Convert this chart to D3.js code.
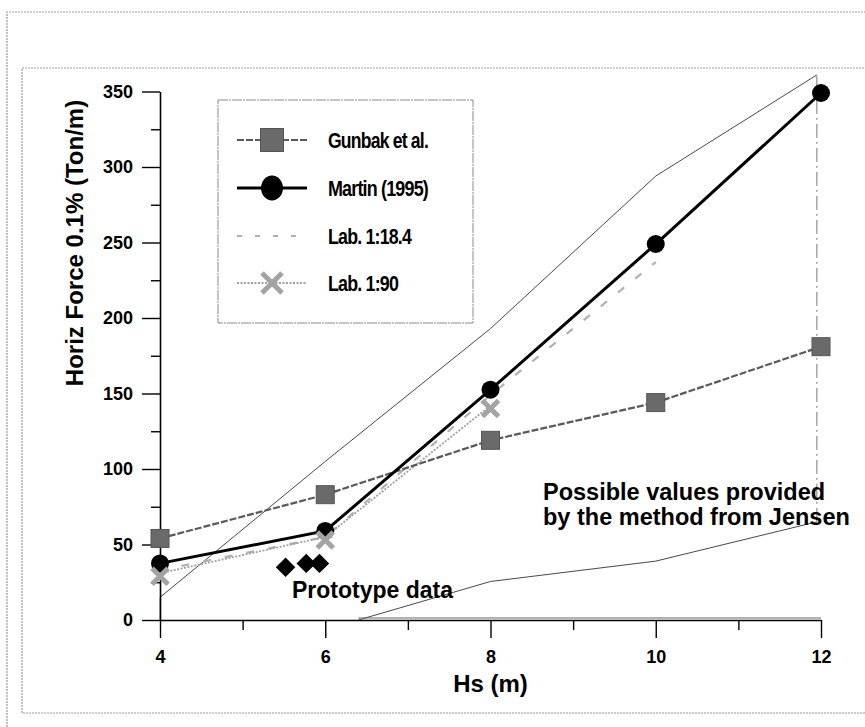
<!DOCTYPE html>
<html>
<head>
<meta charset="utf-8">
<script src="https://cdn.jsdelivr.net/npm/d3@7"></script>
<style>
  html, body { margin: 0; padding: 0; background: #fff; }
  svg { display: block; }
  text { font-family: "Liberation Sans", Arial, Helvetica, sans-serif; }
</style>
</head>
<body>
<svg id="chart" width="865" height="727"></svg>
<script>
// Wave height Hs (m) and horizontal force 0.1% (Ton/m)
const hs = [4, 6, 8, 10, 12];
const gunbak = [54, 83, 119, 144, 181];
const martin = [37.5, 59, 152.5, 249, 349];
const lab184Hs = [4, 6, 8, 10];
const lab184 = [33, 55, 149, 237];
const lab90Hs = [4, 6, 8];
const lab90 = [31, 55, 142];
const protoHs = [5.52, 5.77, 5.93];
const protoForce = [35, 37.5, 37.5];
// Envelope of values from the Jensen method
const jensenUpperHs = [4, 6, 8, 10, 11.95];
const jensenUpper = [15, 105, 193, 294, 361];
const jensenLowerHs = [6.4, 8, 10, 11.95];
const jensenLower = [0, 25.5, 39, 65];
const yTicks = [0, 50, 100, 150, 200, 250, 300, 350];
const yMinor = [25, 75, 125, 175, 225, 275, 325];
const xTicks = [4, 6, 8, 10, 12];
const xMinor = [5, 7, 9, 11];
const legendNames = ["Gunbak et al.", "Martin (1995)", "Lab. 1:18.4", "Lab. 1:90"];

const svg = d3.select("#chart");
const x = d3.scaleLinear().domain([4, 12]).range([160, 821]);
const y = d3.scaleLinear().domain([0, 350]).range([620, 91.5]);

// page frames
svg.append("path").attr("d", "M7,727V12H865")
  .attr("fill", "none").attr("stroke", "#9a9a9a").attr("stroke-width", 1.2).attr("stroke-dasharray", "2,1");
svg.append("path").attr("d", "M865,713H22V68H865")
  .attr("fill", "none").attr("stroke", "#9a9a9a").attr("stroke-width", 1.2).attr("stroke-dasharray", "2,1");

const line = d3.line().x(d => x(d[0])).y(d => y(d[1]));
const pts = (xs, ys) => xs.map((v, i) => [v, ys[i]]);

// Jensen envelope
const up = pts(jensenUpperHs, jensenUpper);
const lo = pts(jensenLowerHs, jensenLower);
svg.append("path").attr("d", line(up)).attr("fill", "none").attr("stroke", "#333").attr("stroke-width", 0.9);
svg.append("path").attr("d", line(lo)).attr("fill", "none").attr("stroke", "#333").attr("stroke-width", 0.9);
svg.append("path").attr("d", line([[4, 0], up[0]])).attr("fill", "none").attr("stroke", "#888").attr("stroke-width", 1);
svg.append("path").attr("d", line([lo[lo.length - 1], up[up.length - 1]]))
  .attr("fill", "none").attr("stroke", "#777").attr("stroke-width", 1).attr("stroke-dasharray", "14,4,2,4");
svg.append("path").attr("d", line([lo[0], [12, 0]])).attr("fill", "none")
  .attr("stroke", "#666").attr("stroke-width", 1.2).attr("transform", "translate(0,-2)");

// axes
svg.append("g").attr("transform", `translate(${x(4)},0)`)
  .call(d3.axisLeft(y).tickValues(yTicks).tickSize(18).tickPadding(9).tickSizeOuter(0));
svg.append("g").attr("transform", `translate(${x(4)},0)`)
  .call(d3.axisLeft(y).tickValues(yMinor).tickSize(9).tickFormat("").tickSizeOuter(0))
  .select(".domain").remove();
svg.append("g").attr("transform", `translate(0,${y(0)})`)
  .call(d3.axisBottom(x).tickValues(xTicks).tickSize(18).tickPadding(12).tickSizeOuter(0));
svg.append("g").attr("transform", `translate(0,${y(0)})`)
  .call(d3.axisBottom(x).tickValues(xMinor).tickSize(10).tickFormat("").tickSizeOuter(0))
  .select(".domain").remove();
svg.selectAll(".domain").attr("stroke", "#000").attr("stroke-width", 1.6);
svg.selectAll(".tick line").attr("stroke", "#000").attr("stroke-width", 1.4);
svg.selectAll(".tick text").attr("font-size", 18).attr("font-weight", "bold")
  .attr("font-family", "Liberation Sans, Arial, sans-serif").attr("fill", "#000");

// axis titles
svg.append("text").attr("x", x(8)).attr("y", 692).attr("text-anchor", "middle")
  .attr("font-size", 24).attr("font-weight", "bold").text("Hs (m)");
svg.append("text").attr("transform", "translate(83,243) rotate(-90)").attr("text-anchor", "middle")
  .attr("font-size", 24).attr("font-weight", "bold").text("Horiz Force 0.1% (Ton/m)");

// series lines
const styles = [
  { stroke: "#5a5a5a", width: 2.2, dash: "7,2" },
  { stroke: "#000", width: 3, dash: null },
  { stroke: "#b0b0b0", width: 2.2, dash: "8,14" },
  { stroke: "#a0a0a0", width: 1.8, dash: "2,1.5" }
];
const series = [pts(hs, gunbak), pts(hs, martin), pts(lab184Hs, lab184), pts(lab90Hs, lab90)];
[2, 3, 0, 1].forEach(i => {
  svg.append("path").attr("d", line(series[i])).attr("fill", "none")
    .attr("stroke", styles[i].stroke).attr("stroke-width", styles[i].width)
    .attr("stroke-dasharray", styles[i].dash);
});

// markers
function square(g, cx, cy, s) {
  g.append("rect").attr("x", cx - s / 2).attr("y", cy - s / 2).attr("width", s).attr("height", s)
    .attr("fill", "#6a6a6a").attr("stroke", "#555").attr("stroke-width", 1);
}
function circle(g, cx, cy, rx, ry) {
  g.append("ellipse").attr("cx", cx).attr("cy", cy).attr("rx", rx).attr("ry", ry).attr("fill", "#000");
}
function cross(g, cx, cy, r) {
  g.append("path").attr("d", `M${cx - r},${cy - r}L${cx + r},${cy + r}M${cx - r},${cy + r}L${cx + r},${cy - r}`)
    .attr("stroke", "#a3a3a3").attr("stroke-width", 5).attr("fill", "none");
}
const marks = svg.append("g");
series[0].forEach(d => square(marks, x(d[0]), y(d[1]), 18));
series[1].forEach(d => circle(marks, x(d[0]), y(d[1]), 9, 9));
series[3].forEach(d => cross(marks, x(d[0]), y(d[1]) + 3, 8));

// prototype data
svg.append("g").selectAll("path").data(pts(protoHs, protoForce)).join("path")
  .attr("transform", d => `translate(${x(d[0])},${y(d[1])}) rotate(45)`)
  .attr("d", d3.symbol(d3.symbolSquare, 190)()).attr("fill", "#000");

// annotations
svg.append("text").attr("x", 292).attr("y", 598).attr("font-size", 23).attr("font-weight", "bold")
  .text("Prototype data");
svg.append("text").attr("x", 543).attr("y", 500).attr("font-size", 23.5).attr("font-weight", "bold")
  .text("Possible values provided");
svg.append("text").attr("x", 543).attr("y", 525).attr("font-size", 23.5).attr("font-weight", "bold")
  .text("by the method from Jensen");

// legend
const lg = svg.append("g");
lg.append("rect").attr("x", 218).attr("y", 100).attr("width", 255).attr("height", 223)
  .attr("fill", "#fff").attr("stroke", "#8a8a8a").attr("stroke-width", 1).attr("stroke-dasharray", "10,1,2,1");
const rowY = [140, 188, 236, 283];
const textLen = [100, 100, 83, 70];
legendNames.forEach((name, i) => {
  const cy = rowY[i];
  lg.append("line").attr("x1", 237).attr("x2", 307).attr("y1", cy).attr("y2", cy)
    .attr("stroke", styles[i].stroke).attr("stroke-width", styles[i].width)
    .attr("stroke-dasharray", i === 2 ? "5,13" : styles[i].dash);
  if (i === 0) square(lg, 272, cy, 23);
  if (i === 1) circle(lg, 272, cy, 11, 12.5);
  if (i === 3) cross(lg, 272, cy, 10);
  lg.append("text").attr("x", 328).attr("y", cy + 8)
    .attr("font-family", "Liberation Sans Narrow, Arial Narrow, Liberation Sans, sans-serif")
    .attr("font-size", 22).attr("font-weight", "bold").attr("letter-spacing", -1)
    .attr("textLength", textLen[i]).attr("lengthAdjust", "spacingAndGlyphs")
    .text(name);
});
</script>
</body>
</html>
